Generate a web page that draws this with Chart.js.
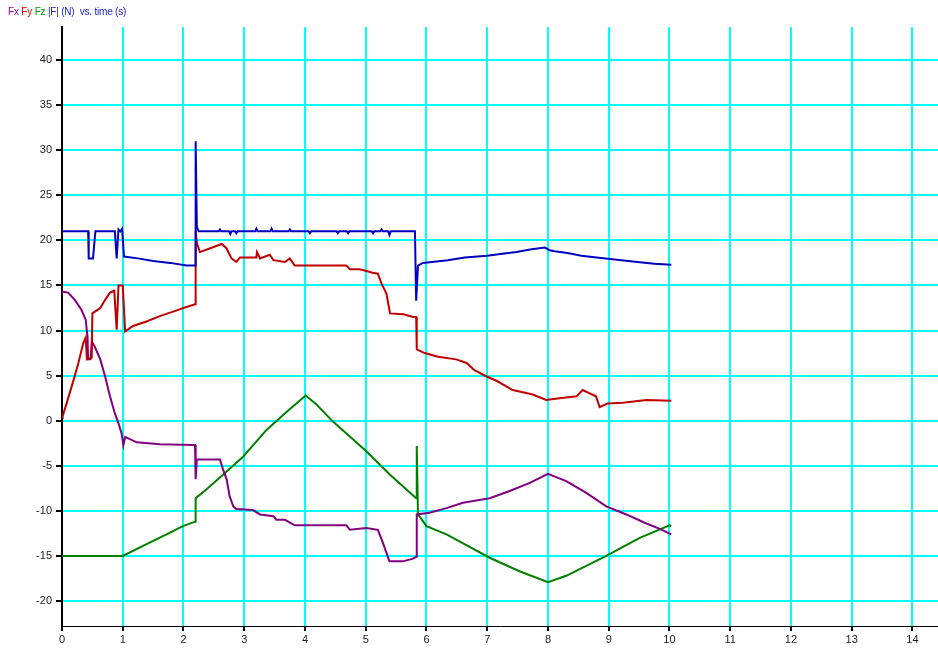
<!DOCTYPE html>
<html>
<head>
<meta charset="utf-8">
<script src="https://cdn.jsdelivr.net/npm/chart.js@4.4.1/dist/chart.umd.min.js"></script>
<style>
  html, body { margin: 0; padding: 0; background: #fff; }
  #wrap { position: relative; width: 938px; height: 648px; }
  #title {
    position: absolute; left: 8px; top: 6px;
    font: 10px "Liberation Sans", Arial, sans-serif; white-space: pre;
    letter-spacing: -0.2px;
  }
</style>
</head>
<body>
<div id="wrap">
  <canvas id="chart" width="938" height="648"></canvas>
  <div id="title"><span style="color:#990099">Fx</span> <span style="color:#e00000">Fy</span> <span style="color:#009900">Fz</span> <span style="color:#2222cc">|F| (N)  vs. time (s)</span></div>
</div>
<script>
// Axis tick values
const xTicks = [0, 1, 2, 3, 4, 5, 6, 7, 8, 9, 10, 11, 12, 13, 14];
const yTicks = [-20, -15, -10, -5, 0, 5, 10, 15, 20, 25, 30, 35, 40];

// Fx (N) vs time (s)
const fxTime = [0, 0.02, 0.10, 0.21, 0.32, 0.39, 0.42, 0.43, 0.47, 0.49, 0.54, 0.63, 0.71, 0.79, 0.87, 0.93, 0.98, 1.01, 1.04, 1.23, 1.42, 1.61, 2.16, 2.19, 2.20, 2.22, 2.60, 2.65, 2.71, 2.76, 2.82, 2.87, 3.14, 3.26, 3.48, 3.53, 3.67, 3.83, 4.68, 4.74, 5.01, 5.20, 5.28, 5.39, 5.61, 5.78, 5.83, 5.84, 6.05, 6.33, 6.60, 7.04, 7.37, 7.70, 8.00, 8.30, 8.63, 8.96, 9.29, 9.62, 9.84, 10.03];
const fxForce = [14.3, 14.3, 14.2, 13.4, 12.3, 11.2, 9.3, 6.8, 6.8, 8.8, 8.2, 6.8, 4.9, 2.7, 0.8, -0.3, -1.4, -2.7, -1.8, -2.4, -2.5, -2.6, -2.7, -2.7, -6.5, -4.3, -4.3, -5.4, -6.5, -8.4, -9.5, -9.8, -9.9, -10.4, -10.6, -11.0, -11.0, -11.6, -11.6, -12.1, -11.9, -12.1, -13.5, -15.6, -15.6, -15.3, -15.1, -10.4, -10.2, -9.7, -9.1, -8.6, -7.8, -6.9, -5.9, -6.7, -8.0, -9.5, -10.4, -11.4, -12.0, -12.6];

// Fy (N) vs time (s)
const fyTime = [0, 0.01, 0.08, 0.19, 0.27, 0.35, 0.39, 0.41, 0.49, 0.50, 0.63, 0.71, 0.79, 0.86, 0.90, 0.93, 1.00, 1.04, 1.17, 1.39, 1.61, 1.83, 2.00, 2.19, 2.20, 2.22, 2.27, 2.43, 2.63, 2.71, 2.79, 2.87, 2.93, 3.20, 3.21, 3.26, 3.42, 3.48, 3.67, 3.75, 3.83, 4.68, 4.74, 4.90, 5.01, 5.11, 5.20, 5.26, 5.34, 5.40, 5.62, 5.78, 5.83, 5.84, 5.97, 6.19, 6.49, 6.66, 6.79, 6.99, 7.16, 7.42, 7.75, 7.97, 8.19, 8.47, 8.57, 8.79, 8.85, 8.98, 9.23, 9.62, 10.03];
const fyForce = [0.3, 0.5, 2.0, 4.5, 6.4, 8.6, 9.2, 6.8, 7.0, 11.9, 12.5, 13.4, 14.2, 14.4, 10.1, 15.0, 15.0, 9.9, 10.5, 11.0, 11.6, 12.1, 12.5, 12.9, 21.1, 19.7, 18.7, 19.1, 19.6, 19.1, 18.0, 17.6, 18.1, 18.1, 18.7, 18.0, 18.4, 17.8, 17.6, 18.0, 17.2, 17.2, 16.8, 16.8, 16.6, 16.4, 16.3, 15.2, 14.1, 11.9, 11.8, 11.5, 11.5, 7.9, 7.5, 7.1, 6.8, 6.4, 5.6, 4.9, 4.4, 3.4, 2.9, 2.3, 2.5, 2.7, 3.4, 2.7, 1.5, 1.9, 2.0, 2.3, 2.2];

// Fz (N) vs time (s)
const fzTime = [0, 1.00, 1.45, 1.72, 1.99, 2.19, 2.20, 2.38, 2.65, 2.98, 3.37, 3.70, 4.01, 4.19, 4.46, 5.01, 5.40, 5.83, 5.84, 5.86, 6.00, 6.33, 7.04, 7.53, 8.00, 8.30, 8.96, 9.51, 10.00, 10.03];
const fzForce = [-15.0, -15.0, -13.5, -12.6, -11.7, -11.2, -8.6, -7.6, -6.0, -4.0, -1.0, 1.0, 2.8, 1.8, -0.1, -3.4, -6.0, -8.6, -2.8, -10.4, -11.7, -12.6, -15.2, -16.7, -17.9, -17.2, -15.0, -13.0, -11.6, -11.7];

// |F| (N) vs time (s)
const fMagTime = [0, 0.43, 0.44, 0.51, 0.55, 0.87, 0.90, 0.93, 0.96, 0.99, 1.02, 1.25, 1.50, 1.78, 2.05, 2.19, 2.20, 2.22, 2.25, 2.58, 2.60, 2.62, 2.75, 2.77, 2.79, 2.85, 2.87, 2.89, 3.18, 3.20, 3.22, 3.43, 3.45, 3.47, 3.73, 3.75, 3.77, 4.06, 4.08, 4.10, 4.52, 4.54, 4.56, 4.69, 4.71, 4.73, 5.10, 5.12, 5.14, 5.24, 5.26, 5.28, 5.37, 5.39, 5.41, 5.81, 5.83, 5.86, 5.94, 6.35, 6.63, 7.00, 7.25, 7.48, 7.73, 7.95, 8.03, 8.11, 8.32, 8.55, 8.80, 9.21, 9.47, 9.75, 10.03];
const fMagForce = [21.0, 21.0, 18.0, 18.0, 21.0, 21.0, 18.0, 21.2, 21.0, 21.3, 18.2, 18.0, 17.7, 17.5, 17.2, 17.2, 31.0, 21.5, 21.0, 21.0, 21.2, 21.0, 21.0, 20.7, 21.0, 21.0, 20.8, 21.0, 21.0, 21.3, 21.0, 21.0, 21.3, 21.0, 21.0, 21.2, 21.0, 21.0, 20.8, 21.0, 21.0, 20.8, 21.0, 21.0, 20.8, 21.0, 21.0, 20.8, 21.0, 21.0, 21.2, 21.0, 21.0, 20.6, 21.0, 21.0, 13.3, 17.2, 17.5, 17.8, 18.1, 18.3, 18.5, 18.7, 19.0, 19.2, 18.9, 18.8, 18.6, 18.3, 18.1, 17.8, 17.6, 17.4, 17.3];

const toPoints = (t, v) => t.map((x, i) => ({ x, y: v[i] }));

const series = (label, t, v, color) => ({
  label,
  data: toPoints(t, v),
  borderColor: color,
  backgroundColor: color,
  showLine: true,
  borderWidth: 2,
  pointRadius: 0,
  tension: 0,
  fill: false
});

const tickFont = { family: '"Liberation Sans", Arial, sans-serif', size: 11 };

new Chart(document.getElementById('chart'), {
  type: 'scatter',
  data: {
    datasets: [
      series('|F|', fMagTime, fMagForce, '#0000c0'),
      series('Fy', fyTime, fyForce, '#c00000'),
      series('Fx', fxTime, fxForce, '#800080'),
      series('Fz', fzTime, fzForce, '#008000')
    ]
  },
  options: {
    responsive: false,
    animation: false,
    events: [],
    layout: { padding: { top: 27, right: 0, bottom: 0, left: 0 } },
    plugins: { legend: { display: false }, tooltip: { enabled: false }, title: { display: false } },
    scales: {
      x: {
        type: 'linear',
        min: 0,
        max: 14.42,
        afterBuildTicks: s => { s.ticks = xTicks.map(v => ({ value: v })); },
        afterFit: s => { s.height = 22; },
        grid: { color: '#00ffff', lineWidth: 2, tickColor: '#000', tickLength: 5, tickWidth: 2 },
        border: { color: '#000', width: 1 },
        ticks: { color: '#222', font: tickFont, padding: 2, maxRotation: 0, autoSkip: false }
      },
      y: {
        type: 'linear',
        min: -22.77,
        max: 43.66,
        afterBuildTicks: s => { s.ticks = yTicks.map(v => ({ value: v })); },
        afterFit: s => { s.width = 62; },
        grid: { color: '#00ffff', lineWidth: 2, tickColor: '#000', tickLength: 6, tickWidth: 2 },
        border: { color: '#000', width: 2 },
        ticks: { color: '#222', font: tickFont, padding: 4, autoSkip: false }
      }
    }
  }
});
</script>
</body>
</html>
